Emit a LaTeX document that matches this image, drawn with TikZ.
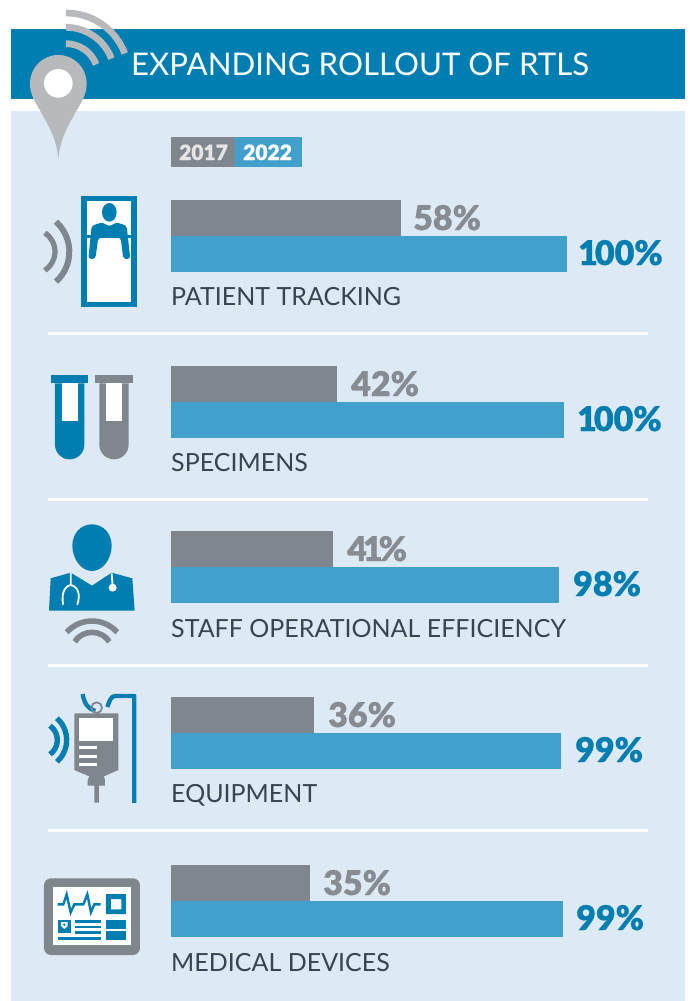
\documentclass[tikz,border=0pt]{standalone}
\usepackage{fontspec}
\setmainfont{Lato}[BoldFont={Lato Black},BoldFeatures={FakeBold=0.8}]
\definecolor{hdr}{HTML}{007DB1}
\definecolor{panel}{HTML}{DDEAF5}
\definecolor{gbar}{HTML}{7F868D}
\definecolor{bbar}{HTML}{41A0CC}
\definecolor{pincol}{HTML}{B7B9BC}
\definecolor{ink}{HTML}{3A4350}
\definecolor{gpct}{HTML}{868C92}
\tikzset{
  lbl/.style={anchor=base west,inner sep=0pt,text=ink,font=\fontsize{25}{26}\selectfont},
  pctg/.style={anchor=base west,inner sep=0pt,text=gpct,font=\fontsize{34}{35}\selectfont\bfseries},
  pctb/.style={anchor=base west,inner sep=0pt,text=hdr,font=\fontsize{34}{35}\selectfont\bfseries},
  leg/.style={anchor=base west,inner sep=0pt,font=\fontsize{21}{22}\selectfont\bfseries},
  wave/.style={line width=#1,line cap=butt},
  icon/.style={scale=0.3333},
}
\newcommand{\barrow}[9]{%
  \fill[gbar] (171,#1) rectangle (#2,#1+36);
  \fill[bbar] (171,#1+36) rectangle (#3,#1+72);
  \node[pctg] (g#1) at (#5,#1+30) {#4};
  \node[pctb] (b#1) at (#7,#1+65) {#6};
  \node[lbl] (l#1) at (171,#8) {#9};
}
\begin{document}
\begin{tikzpicture}[x=1pt,y=1pt,yscale=-1]
\useasboundingbox (0,0) rectangle (689,1001);
\fill[white] (0,0) rectangle (689,1001);
\fill[panel] (11,111) rectangle (685,1001);
\fill[hdr] (11,29) rectangle (685,99);
\node[anchor=base west,inner sep=0pt,text=white,font=\fontsize{31.2}{32}\selectfont] (title) at (131,75.6) {EXPANDING ROLLOUT OF RTLS};
% pin + signal
\begin{scope}[icon]
  \fill[pincol] (175,478) .. controls (170,420) and (150,385) .. (125,340)
     .. controls (105,305) and (90,285) .. (90,250)
     .. controls (90,203) and (128,165) .. (175,165)
     .. controls (222,165) and (260,203) .. (260,250)
     .. controls (260,285) and (245,305) .. (225,340)
     .. controls (200,385) and (180,420) .. (175,478) -- cycle;
  \fill[white] (175,250) circle (43);
  \coordinate (sig) at (198,228);
  \draw[pincol,wave=6.7pt] (sig) ++(-90:189) arc (-90:-21:189);
  \draw[pincol,wave=6.7pt] (sig) ++(-90:146) arc (-90:-21:146);
  \draw[pincol,wave=6.7pt] (sig) ++(-90:97) arc (-90:-21:97);
\end{scope}
% legend
\fill[gbar] (171,137) rectangle (235,167);
\fill[bbar] (235,137) rectangle (302,167);
\node[leg,text=black!10] (y17) at (179,160) {2017};
\node[leg,text=white] (y22) at (243,160) {2022};
% rows
\barrow{200}{401}{567}{58\%}{413}{1\kern-3pt 00\%}{578}{305}{PATIENT TRACKING}
\barrow{366}{337}{564}{42\%}{351}{1\kern-3pt 00\%}{577}{471}{SPECIMENS}
\barrow{531}{333}{559}{4\kern-4pt 1\kern-4pt\%}{347}{98\%}{573}{637}{STAFF OPERATIONAL EFFICIENCY}
\barrow{697}{314}{561}{36\%}{328}{99\%}{575}{802}{EQUIPMENT}
\barrow{865}{310}{563}{35\%}{323}{99\%}{576}{971}{MEDICAL DEVICES}
% separators
\foreach \yy in {333.5,499.5,665.5,830.5}
  \fill[white] (48,\yy-1.2) rectangle (648,\yy+1.2);
% bed icon
\begin{scope}[shift={(30,185)},icon]
  \fill[hdr] (153,33) rectangle (320,367);
  \fill[white] (170,48) rectangle (303,352);
  \fill[hdr] (170,150) rectangle (303,160);
  \fill[hdr] (238,82) ellipse (22 and 28);
  \fill[hdr,rounded corners=3pt] (185,122) -- (218,112) -- (238,125) -- (258,112) -- (290,122)
     -- (301,222) -- (280,222) -- (272,158) -- (205,158) -- (196,222) -- (175,222) -- cycle;
  \draw[gbar,wave=6pt] (-3,200) ++(-48:121) arc (-48:48:121);
  \draw[gbar,wave=5.3pt] (8,200) ++(-57:67) arc (-57:57:67);
\end{scope}
% tubes
\begin{scope}[shift={(30,360)},icon]
  \fill[hdr] (63,45) rectangle (175,70);
  \fill[hdr] (75,70) -- (163,70) -- (163,254) arc (0:180:44) -- cycle;
  \fill[white] (96,70) rectangle (143,182);
  \fill[gbar] (196,45) rectangle (308,70);
  \fill[gbar] (208,70) -- (296,70) -- (296,254) arc (0:180:44) -- cycle;
  \fill[white] (228,70) rectangle (275,182);
\end{scope}
% doctor
\begin{scope}[shift={(30,515)},icon]
  \fill[hdr] (186,28) .. controls (222,28) and (245,58) .. (245,92)
     .. controls (245,132) and (218,168) .. (186,168)
     .. controls (154,168) and (127,132) .. (127,92)
     .. controls (127,58) and (150,28) .. (186,28) -- cycle;
  \fill[hdr] (62,190) -- (122,173) -- (186,212) -- (245,173) -- (307,190) -- (314,287) -- (57,287) -- cycle;
  \draw[white,line width=1.8pt,line cap=round] (122,175) -- (122,210)
     .. controls (100,215) and (95,240) .. (99,268);
  \draw[white,line width=1.8pt,line cap=round] (122,210)
     .. controls (145,215) and (152,240) .. (142,268);
  \draw[white,line width=1.8pt] (245,175) -- (248,215);
  \fill[white] (248,218) circle (12);
  \draw[gbar,wave=5.6pt] (186,420) ++(-138:102) arc (-138:-42:102);
  \draw[gbar,wave=5.6pt] (186,414) ++(-147:62) arc (-147:-33:62);
\end{scope}
% IV bag
\begin{scope}[shift={(30,685)},icon]
  \draw[hdr,line width=4.3pt] (158,27) .. controls (162,55) and (175,72) .. (196,78);
  \draw[hdr,line width=4.3pt,line join=round] (232,66) .. controls (238,50) and (242,33) .. (255,33) -- (313,33) -- (313,354);
  \draw[gbar,line width=1.8pt] (200,68) circle (16);
  \fill[gbar] (133,85) -- (265,85) -- (265,255) -- (222,274) -- (225,285) -- (225,302) -- (207,302) -- (207,353) -- (193,353) -- (193,302) -- (173,302) -- (173,285) -- (178,274) -- (133,255) -- cycle;
  \fill[white] (148,98) rectangle (249,168);
  \fill[white] (147,183) rectangle (201,192);
  \fill[white] (147,209) rectangle (201,219);
  \fill[white] (147,233) rectangle (201,243);
  \draw[hdr,wave=5.3pt] (22,165) ++(-48:88) arc (-48:48:88);
  \draw[hdr,wave=5.3pt] (29,165) ++(-54:53) arc (-54:54:53);
\end{scope}
% monitor
\begin{scope}[shift={(30,865)},icon]
  \fill[gbar,rounded corners=7pt] (42,40) rectangle (330,270);
  \fill[white] (69,67) rectangle (302,240);
  \draw[hdr,line width=2.4pt] (83,118) -- (100,118) -- (110,88) -- (122,142) -- (133,118) -- (160,118) -- (172,88) -- (183,142) -- (193,118) -- (212,118);
  \fill[hdr,even odd rule] (228,87) rectangle (288,147) (243,102) rectangle (274,133);
  \fill[hdr] (84,165) rectangle (123,205);
  \fill[white] (93,171) -- (113,171) -- (113,183) -- (103,192) -- (93,183) -- cycle;
  \fill[hdr] (103,179) circle (4);
  \fill[hdr] (135,165) rectangle (213,175);
  \fill[hdr] (135,182) rectangle (213,190);
  \fill[hdr] (135,197) rectangle (213,207);
  \fill[hdr] (84,216) rectangle (213,225);
  \fill[hdr] (228,165) rectangle (288,193);
  \fill[hdr] (228,198) rectangle (288,225);
\end{scope}
\end{tikzpicture}
\end{document}
